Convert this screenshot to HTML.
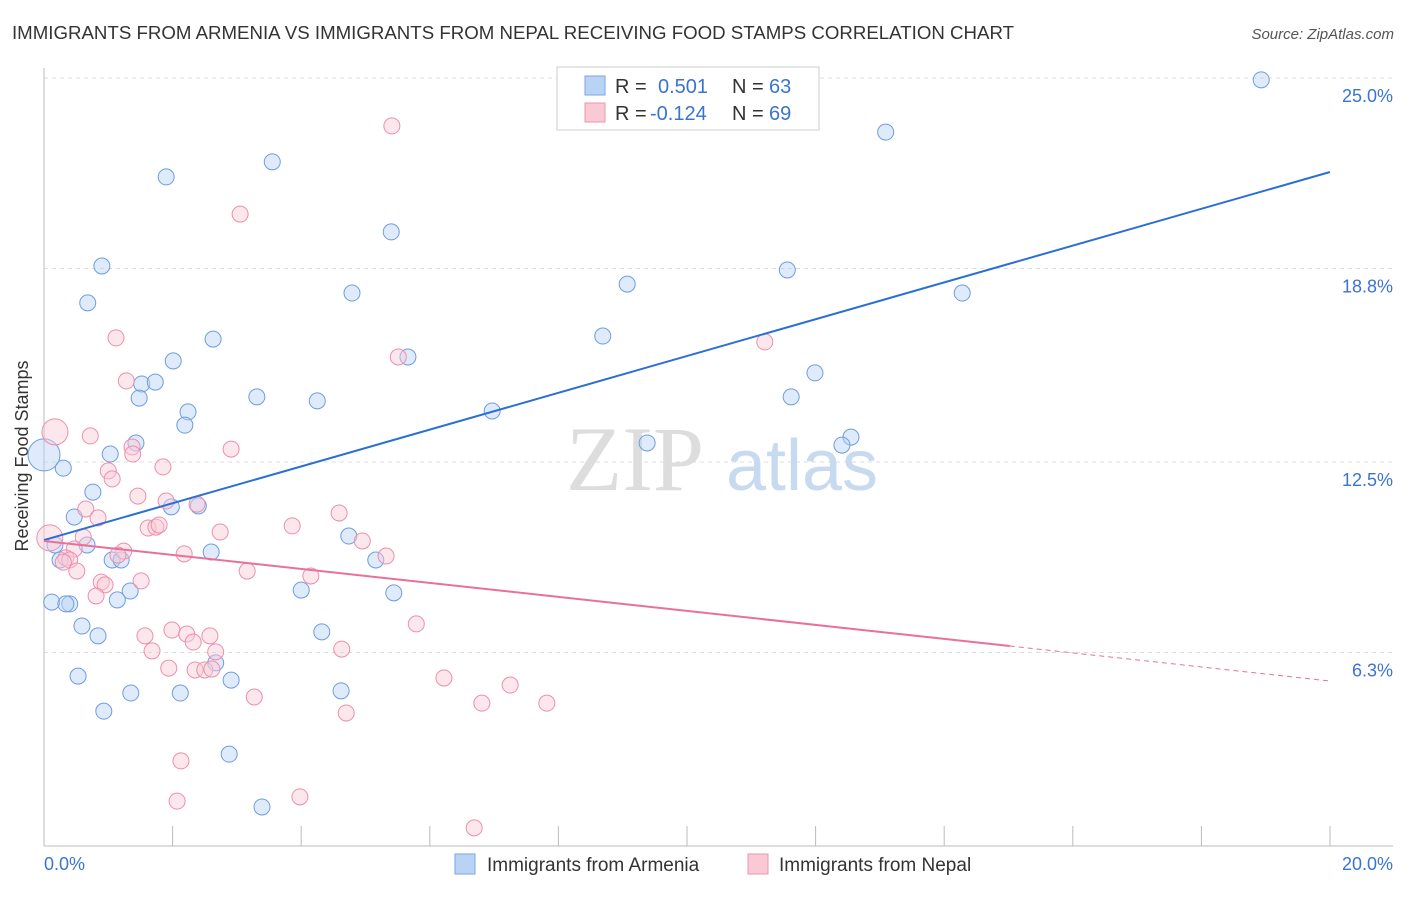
<!DOCTYPE html>
<html><head><meta charset="utf-8"><style>
body{margin:0;background:#fff;font-family:"Liberation Sans",sans-serif;}
svg text{font-family:"Liberation Sans",sans-serif;}
</style></head><body>
<svg id="chart" width="1406" height="892" viewBox="0 0 1406 892">
<text x="12" y="39" font-size="18" fill="#333" textLength="1002" lengthAdjust="spacingAndGlyphs">IMMIGRANTS FROM ARMENIA VS IMMIGRANTS FROM NEPAL RECEIVING FOOD STAMPS CORRELATION CHART</text>
<text x="1394" y="39" font-size="15" fill="#555" font-style="italic" text-anchor="end">Source: ZipAtlas.com</text>
<text x="28" y="456" font-size="18" fill="#333" text-anchor="middle" transform="rotate(-90 28 456)">Receiving Food Stamps</text>
<g id="grid"></g>
<g><text x="635" y="490" font-size="92" fill="#ddd" style="font-family:'Liberation Serif'" text-anchor="middle">ZIP</text><text x="802" y="490" font-size="72" fill="#c8daf0" text-anchor="middle">atlas</text></g>
<g id="pts"></g>
<g id="lines"></g>
<g>
<rect x="557" y="67" width="262" height="63" fill="#fff" stroke="#ccc"/>
<rect x="585" y="76" width="20" height="19" fill="#b9d3f5" stroke="#7aa6e6"/>
<rect x="585" y="103" width="20" height="19" fill="#f9c9d6" stroke="#ee94ae"/>
<text x="615" y="93" font-size="20" fill="#333">R = </text><text x="658" y="93" font-size="20" fill="#3a74d0">0.501</text>
<text x="732" y="93" font-size="20" fill="#333">N = </text><text x="769" y="93" font-size="20" fill="#3a74d0">63</text>
<text x="615" y="120" font-size="20" fill="#333">R = </text><text x="650" y="120" font-size="20" fill="#3a74d0">-0.124</text>
<text x="732" y="120" font-size="20" fill="#333">N = </text><text x="769" y="120" font-size="20" fill="#3a74d0">69</text>
</g>
<g>
<rect x="455" y="854" width="20" height="20" fill="#b9d3f5" stroke="#7aa6e6"/>
<text x="487" y="871" font-size="19" fill="#333">Immigrants from Armenia</text>
<rect x="748" y="854" width="20" height="20" fill="#f9c9d6" stroke="#ee94ae"/>
<text x="779" y="871" font-size="19" fill="#333">Immigrants from Nepal</text>
</g>
<text x="44" y="870" font-size="18" fill="#3a74d0">0.0%</text>
<text x="1393" y="870" font-size="18" fill="#3a74d0" text-anchor="end">20.0%</text>
</svg>
<script>
const yTicks=[25,18.8,12.5,6.3];
const yTickLabels=["25.0%","18.8%","12.5%","6.3%"];
const armX=[18.93,13.09,3.55,1.90,5.40,0.90,11.56,9.07,4.79,14.28,0.68,8.69,2.63,5.66,2.01,1.52,1.73,11.99,1.48,3.31,4.25,11.62,2.24,2.19,6.97,1.43,9.38,12.55,12.41,1.03,0.30,0,0.76,2.40,1.98,0.47,4.74,0.17,0.67,2.60,5.16,0.25,1.06,1.20,1.34,4.00,5.44,0.12,0.40,0.34,1.14,0.59,4.32,0.84,2.67,0.53,2.91,1.35,2.12,4.62,0.93,2.88,3.39];
const armY=[24.94,23.24,22.27,21.78,19.99,18.88,18.75,18.29,18.0,18.0,17.68,16.60,16.50,15.92,15.79,15.04,15.10,15.40,14.58,14.62,14.49,14.62,14.13,13.70,14.16,13.12,13.12,13.31,13.05,12.76,12.30,12.73,11.52,11.07,11.04,10.71,10.09,9.80,9.80,9.57,9.31,9.31,9.31,9.31,8.30,8.33,8.24,7.94,7.88,7.88,8.01,7.16,6.97,6.84,5.96,5.53,5.40,4.98,4.98,5.05,4.39,2.99,1.27];
const nepX=[5.41,3.05,1.12,11.21,5.51,1.28,0.17,0.72,2.91,1.37,1.38,1.85,1.00,1.06,1.46,1.90,2.38,0.65,0.84,4.59,3.86,1.62,1.74,1.79,2.74,0.09,0.61,4.95,0.47,0.34,0.40,0.30,1.24,1.15,2.18,5.32,0.51,3.16,4.15,1.51,0.89,0.95,0.81,1.57,1.99,2.22,2.58,2.32,1.68,2.67,5.79,4.63,1.94,2.35,2.50,2.61,3.27,6.22,7.25,6.81,7.82,4.70,2.13,2.07,3.98,6.69];
const nepY=[23.44,20.57,16.54,16.41,15.92,15.14,13.48,13.35,12.92,12.99,12.76,12.34,12.21,11.95,11.39,11.23,11.13,10.97,10.68,10.84,10.42,10.35,10.38,10.45,10.22,10.03,10.06,9.93,9.67,9.38,9.31,9.24,9.60,9.47,9.51,9.44,8.95,8.95,8.79,8.63,8.59,8.50,8.14,6.84,7.03,6.90,6.84,6.64,6.35,6.32,7.23,6.41,5.79,5.73,5.73,5.76,4.85,5.47,5.24,4.65,4.65,4.33,2.77,1.46,1.60,0.59];
const armLine=[[0,9.96],[20,21.94]];
const nepLine=[[0,9.93],[15.02,6.51],[20,5.37]];
const X0=44,X1=1330,Y0=846,PX=(X1-X0)/20,PY=30.72;
const sx=v=>X0+v*PX, sy=v=>Y0-v*PY;
const NS="http://www.w3.org/2000/svg";
function mk(t,a,p){const e=document.createElementNS(NS,t);for(const k in a)e.setAttribute(k,a[k]);p.appendChild(e);return e;}
const grid=document.getElementById('grid');
yTicks.forEach((t,i)=>{
  const l=mk('line',{x1:X0,x2:1393,y1:sy(t),y2:sy(t),stroke:'#ddd','stroke-dasharray':'4,4'},grid);
  
  
  const tx=mk('text',{x:1393,y:sy(t)+24,'font-size':18,fill:'#3a74d0','text-anchor':'end'},grid);
  tx.textContent=yTickLabels[i];
  
  
});
let ax=mk('line',{x1:X0,x2:1393,y1:Y0,y2:Y0,stroke:'#bbb'},grid);


let ay=mk('line',{x1:X0,x2:X0,y1:68,y2:Y0,stroke:'#bbb'},grid);


for(let i=1;i<=10;i++){const x=sx(i*2);const tk=mk('line',{x1:x,x2:x,y1:Y0,y2:826,stroke:'#bbb'},grid);
  
  }
const pts=document.getElementById('pts');
function dots(xs,ys,fill,stroke,name,big){xs.forEach((x,i)=>{const r=big[i]||8;
  const c=mk('circle',{cx:sx(x),cy:sy(ys[i]),r:r,fill:fill,'fill-opacity':0.45,stroke:stroke,'stroke-width':1},pts);
  
  });}
dots(armX,armY,'#b9d3f5','#6d9de0','armenia-point',{31:16});
dots(nepX,nepY,'#f9c9d6','#ec8fac','nepal-point',{6:13,25:13});
const lines=document.getElementById('lines');
let bl=mk('line',{x1:sx(armLine[0][0]),y1:sy(armLine[0][1]),x2:sx(armLine[1][0]),y2:sy(armLine[1][1]),stroke:'#2a6fd6','stroke-width':2},lines);


let pl=mk('line',{x1:sx(nepLine[0][0]),y1:sy(nepLine[0][1]),x2:sx(nepLine[1][0]),y2:sy(nepLine[1][1]),stroke:'#e8709a','stroke-width':2},lines);


let pd=mk('line',{x1:sx(nepLine[1][0]),y1:sy(nepLine[1][1]),x2:sx(nepLine[2][0]),y2:sy(nepLine[2][1]),stroke:'#e8709a','stroke-width':1,'stroke-dasharray':'5,4'},lines);


</script>
</body></html>
